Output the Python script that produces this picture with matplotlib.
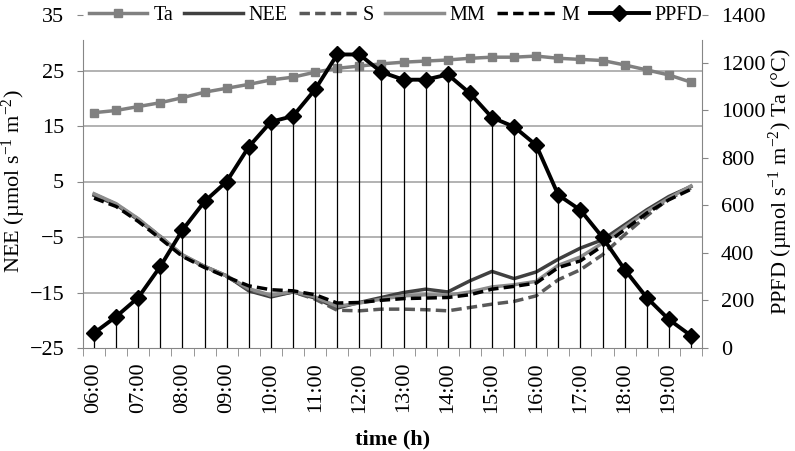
import matplotlib
matplotlib.use('Agg')
from matplotlib import pyplot as plt
import numpy as np

plt.rcParams['font.family'] = ['Liberation Serif', 'DejaVu Serif']
plt.rcParams['mathtext.fontset'] = 'custom'
plt.rcParams['mathtext.rm'] = 'Liberation Serif'
plt.rcParams['mathtext.it'] = 'Liberation Serif:italic'

# half-hourly from 06:00 to 19:30
times = ["06:00", "06:30", "07:00", "07:30", "08:00", "08:30", "09:00", "09:30",
         "10:00", "10:30", "11:00", "11:30", "12:00", "12:30", "13:00", "13:30",
         "14:00", "14:30", "15:00", "15:30", "16:00", "16:30", "17:00", "17:30",
         "18:00", "18:30", "19:00", "19:30"]

ta = [17.4, 17.8, 18.5, 19.2, 20.1, 21.1, 21.8, 22.5, 23.3, 23.8, 24.7, 25.4, 25.8, 26.2,
      26.5, 26.7, 26.9, 27.2, 27.4, 27.4, 27.6, 27.2, 27.0, 26.8, 26.0, 25.1, 24.2, 22.9]
nee = [2.5, 0.8, -1.9, -5.0, -8.3, -10.3, -12.0, -14.7, -15.8, -14.9, -16.0, -17.8, -16.8, -15.9,
       -15.0, -14.4, -14.9, -12.9, -11.2, -12.5, -11.3, -9.0, -7.0, -5.5, -2.8, -0.1, 2.3, 4.1]
s = [2.7, 0.9, -1.8, -4.9, -8.4, -10.4, -12.1, -14.5, -15.6, -14.9, -16.2, -18.2, -18.3, -18.0,
     -18.0, -18.1, -18.3, -17.7, -17.1, -16.6, -15.6, -12.7, -10.9, -8.2, -4.6, -1.2, 1.9, 3.8]
mm = [2.8, 1.0, -1.7, -4.9, -8.2, -10.3, -12.0, -14.3, -15.5, -14.8, -15.8, -17.5, -16.9, -16.2,
      -15.6, -15.4, -15.5, -14.9, -14.0, -13.6, -13.0, -10.1, -8.6, -6.1, -3.2, -0.4, 2.0, 4.2]
m = [2.0, 0.5, -2.2, -5.3, -8.5, -10.5, -12.2, -13.8, -14.5, -14.7, -15.4, -16.9, -16.8, -16.4,
     -16.1, -16.0, -15.9, -15.4, -14.4, -13.9, -13.3, -10.5, -9.3, -6.6, -3.7, -0.7, 1.7, 3.6]
ppfd = [63, 132, 212, 343, 496, 616, 700, 846, 951, 975, 1087, 1234, 1234, 1160,
        1128, 1128, 1150, 1071, 969, 930, 853, 643, 580, 465, 330, 212, 120, 52]

x = np.arange(len(times))
gray = '#868686'

fig = plt.figure(figsize=(7.95, 4.51), dpi=100)
ax = fig.add_axes([83/795, 1-348/451, 619/795, 333/451])
ax2 = ax.twinx()

l_ta, = ax.plot(x, ta, color='#808080', lw=2.5, marker='s', ms=5.5, label='Ta', zorder=3)
l_nee, = ax.plot(x, nee, color='#404040', lw=2.5, label='NEE', zorder=3)
l_s, = ax.plot(x, s, color='#595959', lw=2.5, ls=(0, (3, 1.5)), label='S', zorder=3)
l_mm, = ax.plot(x, mm, color='#8c8c8c', lw=2.5, label='MM', zorder=3)
l_m, = ax.plot(x, m, color='black', lw=2.5, ls=(0, (3, 1.5)), label='M', zorder=4)

ax2.vlines(x, 0, ppfd, color='black', lw=0.9)
l_p, = ax2.plot(x, ppfd, color='black', lw=2.8, marker='D', ms=8, label='PPFD')

ax.set_xlim(-0.5, len(times) - 0.5)
ax.set_ylim(-25, 35)
ax.set_yticks(range(-25, 36, 10))
ax2.set_ylim(0, 1400)
ax2.set_yticks(range(0, 1401, 200))

ax.set_xticks(x[::2])
ax.set_xticklabels(times[::2], rotation=90)
ax.set_xticks(np.arange(-0.5, len(times), 1), minor=True)
ax.tick_params(axis='x', which='major', length=0, labelsize=16, pad=10)
ax.tick_params(axis='x', which='minor', length=6, color=gray, direction='out')
ax.tick_params(axis='y', labelsize=16, length=4.5, color=gray, pad=9)
ax2.tick_params(axis='y', labelsize=16, length=4.5, color=gray, pad=9)

for a in (ax, ax2):
    for sp in ('top', 'left', 'right', 'bottom'):
        a.spines[sp].set_visible(False)
ax.spines['left'].set_visible(True)
ax.spines['bottom'].set_visible(True)
ax2.spines['right'].set_visible(True)
for sp in (ax.spines['left'], ax.spines['bottom'], ax2.spines['right']):
    sp.set_color(gray)
ax.spines['left'].set_bounds(-25, 30.5)
ax2.spines['right'].set_bounds(0, 1295)

for yv in (-15, -5, 5, 15, 25):
    ax.axhline(yv, color='#a6a6a6', lw=1.2, zorder=0)

ax.set_ylabel('NEE (µmol s$^{-1}$ m$^{-2}$)', fontsize=16, labelpad=1)
ax2.set_ylabel('PPFD (µmol s$^{-1}$ m$^{-2}$) Ta (°C)', fontsize=16, labelpad=1)
ax.set_xlabel('time (h)', fontsize=16, fontweight='bold', labelpad=12)

leg = ax2.legend(handles=[l_ta, l_nee, l_s, l_mm, l_m, l_p], ncol=6, loc='center',
                 bbox_to_anchor=(0.505, 1.0), fontsize=14.5, frameon=False,
                 handlelength=2.9, handletextpad=0.3, columnspacing=0.55)

fig.savefig('out.png', dpi=100)
